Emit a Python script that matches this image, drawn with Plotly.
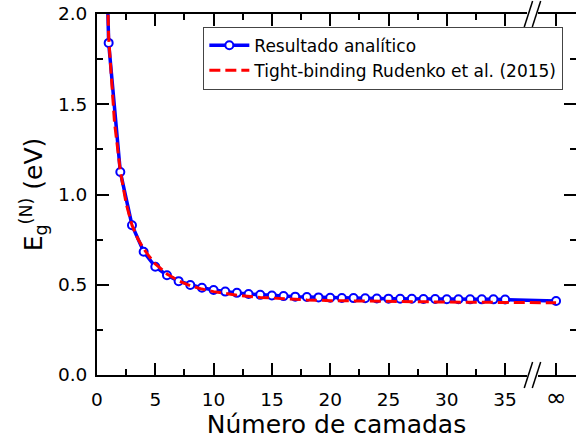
import plotly.graph_objects as go

# ---- data ----
layers = list(range(1, 36))
gap_analytic = [1.84, 1.125, 0.83, 0.683, 0.600, 0.553, 0.520, 0.499, 0.483, 0.471,
                0.462, 0.455, 0.449, 0.444, 0.440, 0.437, 0.434, 0.432, 0.430, 0.428,
                0.427, 0.426, 0.425, 0.424, 0.423, 0.422, 0.422, 0.421, 0.421, 0.420,
                0.420, 0.419, 0.419, 0.419, 0.418]
inf_pos = 39.37
gap_analytic_inf = 0.41
# analytic curve continuing above N=1 (off the top of the axes)
analytic_ext_x = [0.8, 1.0]
analytic_ext_y = [2.35, 1.84]

tb_x = [0.8, 1.0, 1.5, 2.0, 2.5, 3.0, 3.5, 4.0, 4.5, 5.0, 6.0, 7.0, 8.0, 9.0, 10.0,
        12.0, 14.0, 16.0, 18.0, 20.0, 25.0, 30.0, 35.0, 39.37]
tb_y = [2.35, 1.87, 1.40, 1.13, 0.95, 0.83, 0.755, 0.70, 0.655, 0.615, 0.56, 0.522,
        0.495, 0.476, 0.462, 0.442, 0.430, 0.422, 0.416, 0.412, 0.407, 0.404, 0.402, 0.400]

xticks = [0, 5, 10, 15, 20, 25, 30, 35, inf_pos]
xticklabels = ["0", "5", "10", "15", "20", "25", "30", "35",
               "<span style='font-size:25px'>∞</span>"]
yticks = [0, 0.5, 1.0, 1.5, 2.0]
yticklabels = ["0.0", "0.5", "1.0", "1.5", "2.0"]

XMAX = 41.08
FONT = "DejaVu Sans"

fig = go.Figure()
fig.add_trace(go.Scatter(
    x=analytic_ext_x, y=analytic_ext_y, mode="lines", showlegend=False,
    line=dict(color="#0000ff", width=3.5), hoverinfo="skip",
))
fig.add_trace(go.Scatter(
    x=layers + [inf_pos], y=gap_analytic + [gap_analytic_inf],
    mode="lines+markers", name="Resultado analítico",
    line=dict(color="#0000ff", width=3.5),
    marker=dict(symbol="circle", size=8, color="white",
                line=dict(color="#0000ff", width=2)),
))
fig.add_trace(go.Scatter(
    x=tb_x, y=tb_y, mode="lines", name="Tight-binding Rudenko et al. (2015)",
    line=dict(color="#ff0000", width=3, dash="11px,5px"),
))
# invisible trace for right ticks axis
fig.add_trace(go.Scatter(x=[0], y=[0], yaxis="y2", mode="markers",
                         marker=dict(opacity=0), showlegend=False, hoverinfo="skip"))

fig.update_layout(
    width=576, height=446,
    margin=dict(l=97, r=0, t=14, b=71),
    plot_bgcolor="white", paper_bgcolor="white",
    font=dict(family=FONT, size=18, color="black"),
    showlegend=True,
    legend=dict(x=0.222, y=0.965, xanchor="left", yanchor="top",
                bgcolor="white", bordercolor="#444", borderwidth=1,
                font=dict(size=17, family=FONT), itemwidth=40,
                tracegroupgap=0),
    xaxis=dict(
        range=[0, XMAX], tickmode="array", tickvals=xticks, ticktext=xticklabels,
        ticks="inside", ticklen=12, tickwidth=2, tickcolor="black",
        showline=True, linecolor="black", linewidth=2, mirror="ticks",
        showgrid=False, zeroline=False,
        minor=dict(tickvals=[2.5, 7.5, 12.5, 17.5, 22.5, 27.5, 32.5],
                   ticks="inside", ticklen=6, tickwidth=2, tickcolor="black"),
        title=dict(text="Número de camadas", font=dict(size=25, family=FONT), standoff=4),
        tickfont=dict(size=18.5, family=FONT),
        ticklabelstandoff=7,
    ),
    yaxis=dict(
        range=[0, 2.0], tickmode="array", tickvals=yticks, ticktext=yticklabels,
        ticks="inside", ticklen=12, tickwidth=2, tickcolor="black",
        showline=True, linecolor="black", linewidth=2, mirror=False,
        showgrid=False, zeroline=False,
        minor=dict(tickvals=[0.25, 0.75, 1.25, 1.75],
                   ticks="inside", ticklen=6, tickwidth=2, tickcolor="black"),
        title=dict(text="E<sub>g</sub><sup>(N)</sup> (eV)", font=dict(size=25, family=FONT), standoff=8),
        tickfont=dict(size=18.5, family=FONT),
        ticklabelstandoff=4,
    ),
    yaxis2=dict(
        range=[0, 2.0], overlaying="y", side="right", anchor="x",
        tickmode="array", tickvals=yticks, showticklabels=False,
        ticks="inside", ticklen=12, tickwidth=2, tickcolor="black",
        showline=False, showgrid=False, zeroline=False,
        minor=dict(tickvals=[0.25, 0.75, 1.25, 1.75],
                   ticks="inside", ticklen=6, tickwidth=2, tickcolor="black"),
    ),
)

# axis break marks (bottom and top)
bx0, bx1 = 36.88, 37.82
ph = 361.0
d = 13.0 / ph
for yc in (0.0, 1.0):
    fig.add_shape(type="rect", xref="x", yref="paper", x0=bx0, x1=bx1,
                  y0=yc - 3 / ph, y1=yc + 3 / ph, fillcolor="white",
                  line=dict(width=0), layer="above")
    for cx in (37.0, 37.69):
        fig.add_shape(type="line", xref="x", yref="paper",
                      x0=cx - 0.36, x1=cx + 0.36, y0=yc - d, y1=yc + d,
                      line=dict(color="black", width=1.5), layer="above")

fig.write_html("out.html")
